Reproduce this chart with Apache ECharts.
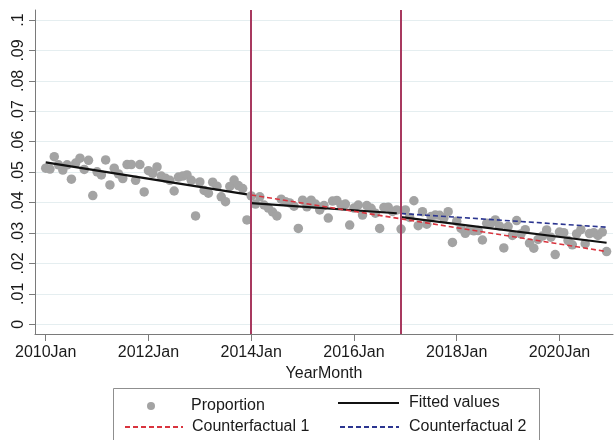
<!DOCTYPE html>
<html><head><meta charset="utf-8">
<script src="https://cdn.jsdelivr.net/npm/echarts@6/dist/echarts.min.js"></script>
<style>html,body{margin:0;padding:0;background:#fff}#c{width:614px;height:440px}</style>
</head><body><div id="c"></div>
<script>
// Monthly proportion, 2010Jan (index 0) to 2020Dec (index 131)
const proportion = [
  0.0513,0.0510,0.0551,0.0524,0.0507,0.0524,0.0477,0.0530,0.0546,0.0509,0.0539,0.0423,
  0.0501,0.0491,0.0540,0.0458,0.0513,0.0494,0.0479,0.0525,0.0525,0.0473,0.0525,0.0435,
  0.0505,0.0496,0.0517,0.0487,0.0480,0.0473,0.0438,0.0484,0.0487,0.0491,0.0473,0.0356,
  0.0468,0.0440,0.0431,0.0467,0.0454,0.0419,0.0403,0.0453,0.0474,0.0456,0.0446,0.0343,
  0.0422,0.0395,0.0419,0.0392,0.0382,0.0369,0.0356,0.0411,0.0403,0.0399,0.0388,0.0315,
  0.0408,0.0386,0.0408,0.0395,0.0376,0.0390,0.0349,0.0405,0.0407,0.0392,0.0395,0.0326,
  0.0382,0.0392,0.0359,0.0390,0.0381,0.0365,0.0315,0.0384,0.0385,0.0371,0.0376,0.0313,
  0.0376,0.0351,0.0406,0.0324,0.0370,0.0329,0.0354,0.0359,0.0358,0.0349,0.0370,0.0269,
  0.0339,0.0315,0.0299,0.0310,0.0307,0.0308,0.0277,0.0332,0.0332,0.0343,0.0323,0.0251,
  0.0321,0.0292,0.0341,0.0297,0.0311,0.0267,0.0250,0.0279,0.0290,0.0310,0.0286,0.0229,
  0.0303,0.0301,0.0275,0.0261,0.0297,0.0311,0.0265,0.0298,0.0301,0.0292,0.0303,0.0239
];
// Fitted segments and counterfactuals: [monthIndex, value]
const fittedSeg1 = [[0, 0.0532], [47, 0.0427]];
const fittedSeg2 = [[48, 0.0398], [82, 0.0365]];
const fittedSeg3 = [[83, 0.0352], [131, 0.0268]];
const counterfactual1 = [[48, 0.0425], [131, 0.0239]];
const counterfactual2 = [[83, 0.0364], [131, 0.0319]];
const interventionMonths = [48, 83];
// Tick labels
const xTickMonths = [0, 24, 48, 72, 96, 120];
const xTickLabels = ['2010Jan', '2012Jan', '2014Jan', '2016Jan', '2018Jan', '2020Jan'];
const yTickValues = [0, 0.01, 0.02, 0.03, 0.04, 0.05, 0.06, 0.07, 0.08, 0.09, 0.1];
const yTickLabels = ['0', '.01', '.02', '.03', '.04', '.05', '.06', '.07', '.08', '.09', '.1'];

const FONT = "'Liberation Sans', Arial, sans-serif";
const TXT = '#1a1a1a';
const AXC = '#7a7a7a';
const chart = echarts.init(document.getElementById('c'), null, {renderer: 'canvas'});

const pointData = proportion.map((v, i) => [i, v]);
const lineBase = {type: 'line', symbol: 'none', silent: true, animation: false, z: 3};
const noSym = {color: 'rgba(0,0,0,0)', borderWidth: 0, opacity: 0};

chart.setOption({
  animation: false,
  backgroundColor: '#fff',
  grid: {left: 35, right: 1, top: 10, bottom: 106, containLabel: false},
  xAxis: {
    type: 'value', min: -2.5, max: 132.5,
    name: 'YearMonth', nameLocation: 'middle', nameGap: 25,
    nameTextStyle: {fontSize: 16, fontFamily: FONT, color: TXT},
    axisLine: {show: true, onZero: false, lineStyle: {color: AXC, width: 1}},
    axisTick: {show: true, length: 7, lineStyle: {color: AXC}, customValues: xTickMonths},
    axisLabel: {
      fontSize: 16, fontFamily: FONT, color: TXT, margin: 11,
      customValues: xTickMonths,
      formatter: (v) => { const k = xTickMonths.indexOf(v); return k >= 0 ? xTickLabels[k] : ''; }
    },
    splitLine: {show: false}
  },
  yAxis: {
    type: 'value', min: -0.0032, max: 0.1033,
    axisLine: {show: true, onZero: false, lineStyle: {color: AXC, width: 1}},
    axisTick: {show: true, length: 6, lineStyle: {color: AXC}, customValues: yTickValues},
    axisLabel: {
      fontSize: 16, fontFamily: FONT, color: TXT, rotate: 90, margin: 8,
      customValues: yTickValues,
      formatter: (v) => {
        let k = -1;
        yTickValues.forEach((t, i) => { if (Math.abs(t - v) < 1e-9) k = i; });
        return k >= 0 ? yTickLabels[k] : '';
      }
    },
    splitLine: {show: true, lineStyle: {color: '#e5eef0', width: 1}}
  },
  legend: [
    {data: ['Proportion'], left: 147, top: 398, itemWidth: 8, itemHeight: 8, padding: 0, selectedMode: false,
     textStyle: {fontSize: 16, fontFamily: FONT, color: TXT, padding: [0, 0, 0, 31]}},
    {data: ['Fitted values'], left: 337, top: 395, itemWidth: 61, itemHeight: 14, padding: 0, selectedMode: false,
     itemStyle: noSym,
     textStyle: {fontSize: 16, fontFamily: FONT, color: TXT, padding: [0, 0, 0, 5]}},
    {data: ['Counterfactual 1'], left: 124, top: 419, itemWidth: 58, itemHeight: 14, padding: 0, selectedMode: false,
     itemStyle: noSym,
     textStyle: {fontSize: 16, fontFamily: FONT, color: TXT, padding: [0, 0, 0, 4]}},
    {data: ['Counterfactual 2'], left: 339, top: 419, itemWidth: 59, itemHeight: 14, padding: 0, selectedMode: false,
     itemStyle: noSym,
     textStyle: {fontSize: 16, fontFamily: FONT, color: TXT, padding: [0, 0, 0, 5]}}
  ],
  graphic: [{
    type: 'rect', z: -1, silent: true,
    shape: {x: 113.5, y: 388.5, width: 426, height: 60},
    style: {fill: '#fff', stroke: '#8f8f8f', lineWidth: 1}
  }],
  series: [
    {name: 'Proportion', type: 'scatter', data: pointData, symbol: 'circle', symbolSize: 9.5,
     itemStyle: {color: '#a3a3a3', opacity: 1}, z: 2, silent: true, animation: false,
     markLine: {
       silent: true, symbol: ['none', 'none'], label: {show: false}, animation: false,
       lineStyle: {color: '#a8395f', width: 2, type: 'solid'},
       data: interventionMonths.map(m => ({xAxis: m}))
     }},
    Object.assign({}, lineBase, {name: 'Fitted values', data: fittedSeg1, lineStyle: {color: '#111', width: 2.2}, itemStyle: {color: '#111'}}),
    Object.assign({}, lineBase, {name: 'Fitted values', data: fittedSeg2, lineStyle: {color: '#111', width: 2.2}, itemStyle: {color: '#111'}}),
    Object.assign({}, lineBase, {name: 'Fitted values', data: fittedSeg3, lineStyle: {color: '#111', width: 2.2}, itemStyle: {color: '#111'}}),
    Object.assign({}, lineBase, {name: 'Counterfactual 1', data: counterfactual1, z: 4,
      lineStyle: {color: '#d9343e', width: 1.6, type: [5, 3]}, itemStyle: {color: '#d9343e'}}),
    Object.assign({}, lineBase, {name: 'Counterfactual 2', data: counterfactual2, z: 4,
      lineStyle: {color: '#2b3590', width: 1.6, type: [5, 3]}, itemStyle: {color: '#2b3590'}})
  ]
});
</script></body></html>
